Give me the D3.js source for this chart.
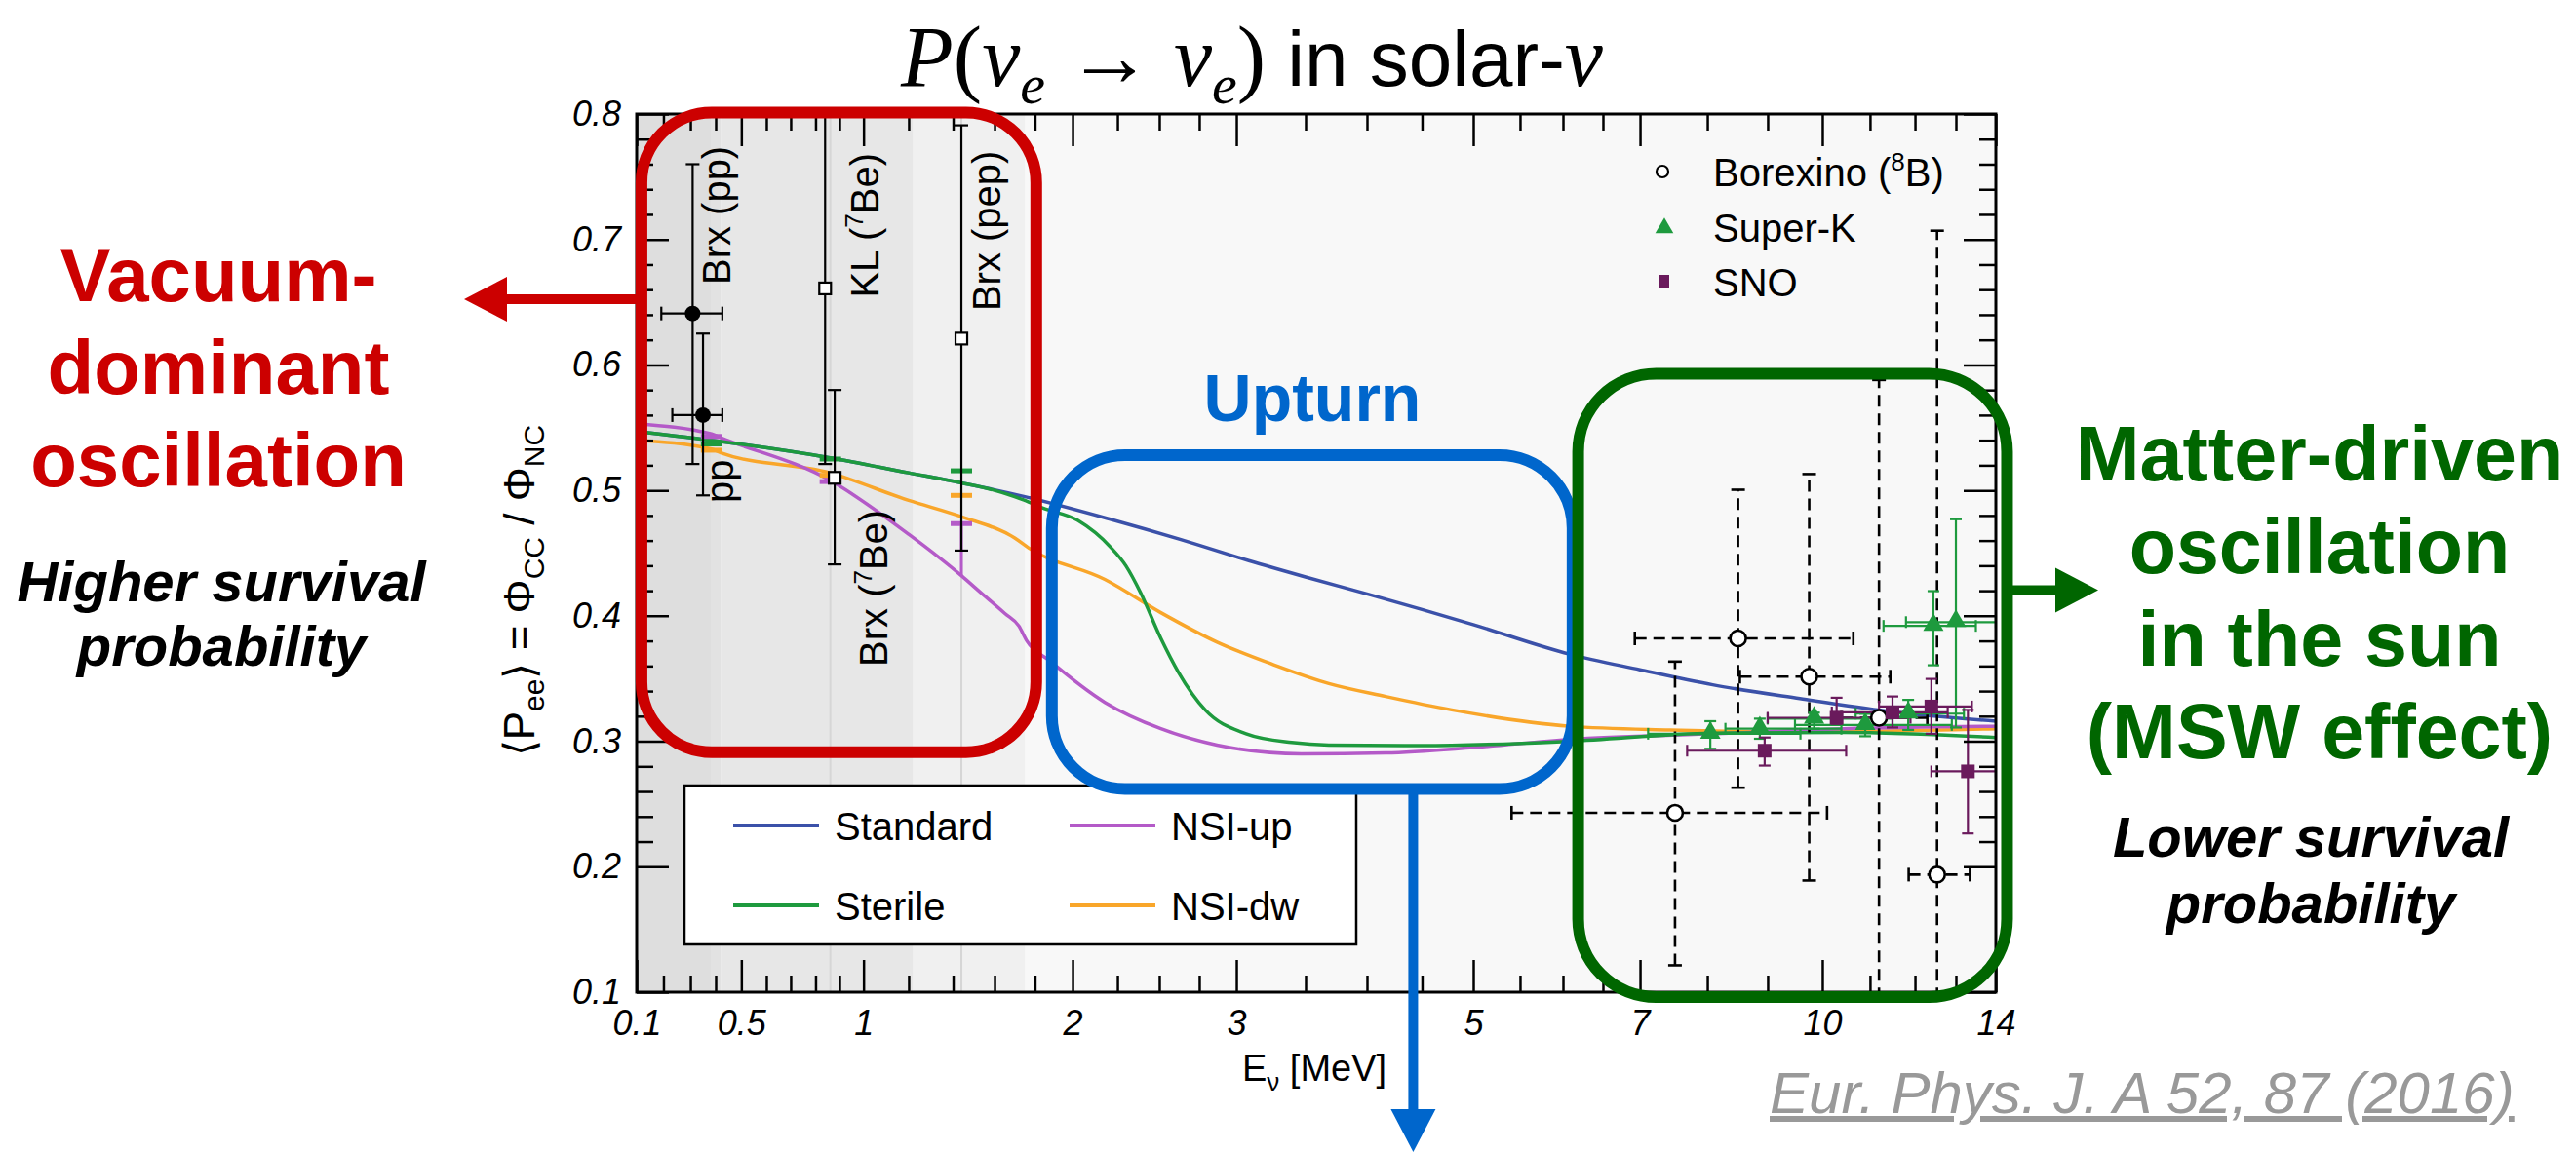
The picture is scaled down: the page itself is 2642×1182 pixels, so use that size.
<!DOCTYPE html>
<html>
<head>
<meta charset="utf-8">
<script src="https://cdn.jsdelivr.net/npm/d3@7"></script>
<style>
  body { margin: 0; background: #fff; }
  svg text { font-family: "Liberation Sans", Arial, Helvetica, sans-serif; }
</style>
</head>
<body>
<svg id="chart" width="2642" height="1182"></svg>
<script>

// ---- model curves: neutrino energy (MeV) and survival probability
var stdE  = [0.1, 0.42, 0.86, 1.2, 1.44, 1.75, 2.21, 2.63, 3.09, 3.5, 4.04, 4.5, 5.0, 6.08, 7.0, 8.09, 9.59, 11.38, 14];
var stdP  = [0.547, 0.539, 0.526, 0.514, 0.506, 0.495, 0.477, 0.461, 0.444, 0.431, 0.4165, 0.405, 0.393, 0.3695, 0.357, 0.345, 0.334, 0.324, 0.316];

var sterE = [0.1, 0.42, 0.86, 1.2, 1.44, 1.6, 1.75, 1.84, 2.03, 2.21, 2.3, 2.39, 2.51, 2.62, 2.79, 3.07, 3.4, 3.69, 4.5, 6.08, 8.09, 10.45, 14];
var sterP = [0.547, 0.539, 0.526, 0.514, 0.506, 0.500, 0.492, 0.486, 0.476, 0.455, 0.440, 0.418, 0.382, 0.355, 0.325, 0.306, 0.299, 0.297, 0.2965, 0.300, 0.3065, 0.307, 0.303];

var upE   = [0.1, 0.384, 0.42, 0.86, 1.2, 1.44, 1.53, 1.65, 1.72, 1.76, 1.88, 2.18, 2.51, 2.87, 3.47, 4.17, 5.0, 6.08, 8.09, 10.45, 14];
var upP   = [0.553, 0.545, 0.542, 0.508, 0.465, 0.432, 0.419, 0.402, 0.392, 0.380, 0.364, 0.331, 0.310, 0.297, 0.290, 0.2907, 0.295, 0.3015, 0.306, 0.310, 0.312];

var dwE   = [0.1, 0.384, 0.42, 0.86, 1.2, 1.44, 1.70, 1.77, 2.18, 2.51, 2.87, 3.27, 3.69, 4.17, 4.79, 6.08, 7.44, 9.59, 14];
var dwP   = [0.540, 0.533, 0.530, 0.514, 0.492, 0.479, 0.462, 0.454, 0.429, 0.4025, 0.379, 0.361, 0.346, 0.3357, 0.325, 0.312, 0.309, 0.3075, 0.310];

// model predictions at the pp / 7Be / pep lines
var srcE      = [0.384, 0.862, 1.44];
var srcSter   = [0.537, 0.525, 0.5156];
var srcUp     = [0.543, 0.507, 0.4735];
var srcDw     = [0.532, 0.512, 0.496];

// ---- low energy measurements
var lowE    = [0.309, 0.35, 0.84, 0.88, 1.44];
var lowP    = [0.641, 0.560, 0.661, 0.510, 0.621];
var lowPlo  = [0.521, 0.496, 0.521, 0.441, 0.452];
var lowPhi  = [0.760, 0.625, 0.860, 0.580, 0.791];
var lowElo  = [0.192, 0.233, null, null, null];
var lowEhi  = [0.426, 0.426, null, null, null];
var lowOpen = [false, false, true, true, true];

// ---- 8B measurements
var bxE   = [7.52, 8.51, 9.76, 11.2, 12.54];
var bxP   = [0.243, 0.382, 0.3515, 0.3187, 0.1937];
var bxElo = [5.41, 6.93, 8.54, 10.4, 11.86];
var bxEhi = [10.1, 10.65, 11.45, 12.3, 13.35];
var bxPlo = [0.1214, 0.263, 0.189, 0.05, 0.05];
var bxPhi = [0.3635, 0.5005, 0.513, 0.588, 0.707];

var skE   = [8.05, 8.87, 9.85, 10.9, 11.85, 12.45, 13.0];
var skP   = [0.306, 0.310, 0.318, 0.313, 0.322, 0.392, 0.395];
var skElo = [7.12, 8.3, 9.0, 9.5, 10.7, 11.3, 11.8];
var skEhi = [9.6, 10.4, 11.5, 12.9, 13.2, 13.5, 14.0];
var skPlo = [0.294, 0.302, 0.310, 0.304, 0.309, 0.3606, 0.311];
var skPhi = [0.316, 0.318, 0.3228, 0.322, 0.333, 0.4197, 0.477];

var snoE   = [8.95, 10.3, 11.5, 12.4, 13.3];
var snoP   = [0.2925, 0.3187, 0.323, 0.3277, 0.276];
var snoElo = [7.7, 9.0, 10.2, 11.2, 12.4];
var snoEhi = [10.5, 11.9, 12.8, 13.4, 14.0];
var snoPlo = [0.2806, 0.3139, 0.311, 0.306, 0.2265];
var snoPhi = [0.303, 0.3347, 0.3357, 0.3497, 0.325];

// ---- axis
var xMajor = [0.1, 0.5, 1, 2, 3, 5, 7, 10, 14];
var yMajor = [0.1, 0.2, 0.3, 0.4, 0.5, 0.6, 0.7, 0.8];
// shaded source regions
var bandLo = [0.1, 0.384, 0.42, 1.22];
var bandHi = [0.384, 0.42, 1.22, 1.75];

// the energy axis is neither log nor linear: calibrate it at the tick marks (fraction of axis length)
var axisE    = [0.1,0.2,0.3,0.4,0.5,0.6,0.7,0.8,0.9,1,1.2,1.4,1.6,1.8,2,2.25,2.5,2.75,3,3.5,4,4.5,5,5.5,6,6.5,7,8,9,10,11,12,13,14];
var axisFrac = [0,.0197,.0395,.0581,.0770,.0954,.1133,.1316,.1492,.1669,.2001,.2328,.2633,.2930,.3207,.3537,.3845,.4139,.4412,.4921,.5373,.5778,.6155,.6499,.6815,.7109,.7382,.7877,.8321,.8723,.9074,.9405,.9706,1];

var X0 = 653, Y0 = 117, W = 1394, H = 901;
var svg = d3.select('#chart');

var x = d3.scaleLinear().domain(axisE).range(axisFrac.map(function(f){ return X0 + f * W; }));
var y = d3.scaleLinear().domain([0.1, 0.8]).range([Y0 + H, Y0]);

var xMinor = axisE.filter(function(e){ return xMajor.indexOf(e) < 0; });
var yMinor = d3.range(11, 40).map(function(i){ return i / 50; }).filter(function(v){ return Math.round(v * 50) % 5 != 0; });

var colStd = '#3b51a9', colSter = '#1e9a3e', colUp = '#b45ac8', colDw = '#f9a62a';
var colSK = '#1e9a3e', colSNO = '#6a1a5c';

// background + source bands
svg.append('rect').attr('x', X0).attr('y', Y0).attr('width', W).attr('height', H).attr('fill', '#f8f8f8');
var bandFill = ['#dedede', '#e2e2e2', '#e7e7e7', '#f0f0f0'];
svg.selectAll('rect.band').data(bandLo).enter().append('rect')
    .attr('class', 'band')
    .attr('x', function(d){ return x(d); })
    .attr('width', function(d, i){ return x(bandHi[i]) - x(d); })
    .attr('y', Y0).attr('height', H)
    .attr('fill', function(d, i){ return bandFill[i]; });
svg.selectAll('line.src').data([0.862, 1.44]).enter().append('line')
    .attr('x1', function(d){ return x(d); }).attr('x2', function(d){ return x(d); })
    .attr('y1', Y0).attr('y2', Y0 + H)
    .attr('stroke', '#d6d6d6').attr('stroke-width', 2);

svg.append('defs').append('clipPath').attr('id', 'plotclip')
  .append('rect').attr('x', X0).attr('y', Y0).attr('width', W).attr('height', H);
var plot = svg.append('g').attr('clip-path', 'url(#plotclip)');

// model curves
var curves = [
  {name: 'Standard', color: colStd,  E: stdE,  P: stdP},
  {name: 'NSI-dw',   color: colDw,   E: dwE,   P: dwP},
  {name: 'NSI-up',   color: colUp,   E: upE,   P: upP},
  {name: 'Sterile',  color: colSter, E: sterE, P: sterP}
];
var line = d3.line().curve(d3.curveMonotoneX)
    .x(function(d){ return x(d[0]); })
    .y(function(d){ return y(d[1]); });
plot.selectAll('path.model').data(curves).enter().append('path')
    .attr('class', 'model')
    .attr('d', function(c){ return line(d3.zip(c.E, c.P)); })
    .attr('fill', 'none')
    .attr('stroke', function(c){ return c.color; })
    .attr('stroke-width', 3.5);

// predictions at the source lines
[[srcDw, colDw], [srcUp, colUp], [srcSter, colSter]].forEach(function(s){
  plot.selectAll(null).data(srcE).enter().append('line')
      .attr('x1', function(d){ return x(d) - 11; }).attr('x2', function(d){ return x(d) + 11; })
      .attr('y1', function(d, i){ return y(s[0][i]); }).attr('y2', function(d, i){ return y(s[0][i]); })
      .attr('stroke', s[1]).attr('stroke-width', 5);
});
plot.append('line')
    .attr('x1', x(srcE[2])).attr('x2', x(srcE[2]))
    .attr('y1', y(srcUp[2])).attr('y2', y(upP[5]))
    .attr('stroke', colUp).attr('stroke-width', 3);

// error bar helper
function errBars(g, E, P, Elo, Ehi, Plo, Phi, color, width, dash, cap) {
  var idx = d3.range(E.length);
  g.selectAll(null).data(idx.filter(function(i){ return Elo[i] != null; })).enter().append('line')
      .attr('x1', function(i){ return x(Elo[i]); }).attr('x2', function(i){ return x(Ehi[i]); })
      .attr('y1', function(i){ return y(P[i]); }).attr('y2', function(i){ return y(P[i]); })
      .attr('stroke', color).attr('stroke-width', width).attr('stroke-dasharray', dash);
  g.selectAll(null).data(idx).enter().append('line')
      .attr('x1', function(i){ return x(E[i]); }).attr('x2', function(i){ return x(E[i]); })
      .attr('y1', function(i){ return y(Plo[i]); }).attr('y2', function(i){ return y(Phi[i]); })
      .attr('stroke', color).attr('stroke-width', width).attr('stroke-dasharray', dash);
  // caps
  var caps = [];
  idx.forEach(function(i){
    caps.push([x(E[i]) - cap, y(Plo[i]), x(E[i]) + cap, y(Plo[i])]);
    caps.push([x(E[i]) - cap, y(Phi[i]), x(E[i]) + cap, y(Phi[i])]);
    if (Elo[i] != null) {
      caps.push([x(Elo[i]), y(P[i]) - cap, x(Elo[i]), y(P[i]) + cap]);
      caps.push([x(Ehi[i]), y(P[i]) - cap, x(Ehi[i]), y(P[i]) + cap]);
    }
  });
  g.selectAll(null).data(caps).enter().append('line')
      .attr('x1', function(c){ return c[0]; }).attr('y1', function(c){ return c[1]; })
      .attr('x2', function(c){ return c[2]; }).attr('y2', function(c){ return c[3]; })
      .attr('stroke', color).attr('stroke-width', width);
}

// low energy points
errBars(plot, lowE, lowP, lowElo, lowEhi, lowPlo, lowPhi, '#000', 2.2, null, 7);
plot.selectAll('circle.low').data(d3.range(lowE.length).filter(function(i){ return !lowOpen[i]; })).enter()
  .append('circle')
    .attr('cx', function(i){ return x(lowE[i]); }).attr('cy', function(i){ return y(lowP[i]); })
    .attr('r', 8).attr('fill', '#000');
plot.selectAll('rect.low').data(d3.range(lowE.length).filter(function(i){ return lowOpen[i]; })).enter()
  .append('rect')
    .attr('x', function(i){ return x(lowE[i]) - 6; }).attr('y', function(i){ return y(lowP[i]) - 6; })
    .attr('width', 12).attr('height', 12)
    .attr('fill', '#fff').attr('stroke', '#000').attr('stroke-width', 2.2);

// 8B points
errBars(plot, bxE, bxP, bxElo, bxEhi, bxPlo, bxPhi, '#000', 2.6, '12,7', 7);
errBars(plot, skE, skP, skElo, skEhi, skPlo, skPhi, colSK, 2.2, null, 6);
errBars(plot, snoE, snoP, snoElo, snoEhi, snoPlo, snoPhi, colSNO, 2.2, null, 6);

plot.selectAll('circle.bx').data(d3.range(bxE.length)).enter().append('circle')
    .attr('cx', function(i){ return x(bxE[i]); }).attr('cy', function(i){ return y(bxP[i]); })
    .attr('r', 8).attr('fill', '#fff').attr('stroke', '#000').attr('stroke-width', 2.6);
var tri = d3.symbol().type(d3.symbolTriangle).size(190);
plot.selectAll('path.sk').data(d3.range(skE.length)).enter().append('path')
    .attr('d', tri)
    .attr('transform', function(i){ return 'translate(' + x(skE[i]) + ',' + (y(skP[i]) - 1) + ')'; })
    .attr('fill', colSK);
plot.selectAll('rect.sno').data(d3.range(snoE.length)).enter().append('rect')
    .attr('x', function(i){ return x(snoE[i]) - 7; }).attr('y', function(i){ return y(snoP[i]) - 7; })
    .attr('width', 14).attr('height', 14).attr('fill', colSNO);

// axes
function styleAxis(g) {
  g.select('.domain').remove();
  g.selectAll('.tick line').attr('stroke', '#000').attr('stroke-width', 2.5);
  g.selectAll('.tick text')
      .attr('fill', '#000')
      .style('font-family', '"Liberation Sans", Arial, sans-serif')
      .style('font-size', '36px')
      .style('font-style', 'italic');
}
var lab = function(d){ return String(d); };
svg.append('g').attr('transform', 'translate(0,' + (Y0 + H) + ')')
    .call(d3.axisBottom(x).tickValues(xMajor).tickSize(-33).tickPadding(18).tickFormat(lab))
    .call(styleAxis);
svg.append('g').attr('transform', 'translate(0,' + (Y0 + H) + ')')
    .call(d3.axisBottom(x).tickValues(xMinor).tickSize(-17).tickFormat(''))
    .call(styleAxis);
svg.append('g').attr('transform', 'translate(0,' + Y0 + ')')
    .call(d3.axisTop(x).tickValues(xMajor).tickSize(-33).tickFormat(''))
    .call(styleAxis);
svg.append('g').attr('transform', 'translate(0,' + Y0 + ')')
    .call(d3.axisTop(x).tickValues(xMinor).tickSize(-17).tickFormat(''))
    .call(styleAxis);
svg.append('g').attr('transform', 'translate(' + X0 + ',0)')
    .call(d3.axisLeft(y).tickValues(yMajor).tickSize(-33).tickPadding(16).tickFormat(d3.format('.1f')))
    .call(styleAxis);
svg.append('g').attr('transform', 'translate(' + X0 + ',0)')
    .call(d3.axisLeft(y).tickValues(yMinor).tickSize(-17).tickFormat(''))
    .call(styleAxis);
svg.append('g').attr('transform', 'translate(' + (X0 + W) + ',0)')
    .call(d3.axisRight(y).tickValues(yMajor).tickSize(-33).tickFormat(''))
    .call(styleAxis);
svg.append('g').attr('transform', 'translate(' + (X0 + W) + ',0)')
    .call(d3.axisRight(y).tickValues(yMinor).tickSize(-17).tickFormat(''))
    .call(styleAxis);
svg.append('rect').attr('x', X0).attr('y', Y0).attr('width', W).attr('height', H)
    .attr('fill', 'none').attr('stroke', '#000').attr('stroke-width', 3);

// axis titles
var xt = svg.append('text').attr('x', x(3) + 80).attr('y', 1109).attr('text-anchor', 'middle')
    .style('font-size', '38px');
xt.append('tspan').text('E');
xt.append('tspan').attr('dy', 10).style('font-size', '26px').text('ν');
xt.append('tspan').attr('dy', -10).text(' [MeV]');

var yt = svg.append('text').attr('transform', 'translate(548,' + y(0.42) + ') rotate(-90)')
    .attr('text-anchor', 'middle').style('font-size', '44px');
yt.append('tspan').text('⟨P');
yt.append('tspan').attr('dy', 10).style('font-size', '30px').text('ee');
yt.append('tspan').attr('dy', -10).text('⟩ = Φ');
yt.append('tspan').attr('dy', 10).style('font-size', '30px').text('CC');
yt.append('tspan').attr('dy', -10).text(' / Φ');
yt.append('tspan').attr('dy', 10).style('font-size', '30px').text('NC');

// rotated labels for the low energy points
var lowLab = [
  {t: ['Brx (pp)'], e: 0.309, p: 0.664, dx: 39},
  {t: ['pp'], e: 0.35, p: 0.490, dx: 31},
  {t: ['KL (', '7', 'Be)'], e: 0.84, p: 0.6535, dx: 55},
  {t: ['Brx (', '7', 'Be)'], e: 0.88, p: 0.3595, dx: 54},
  {t: ['Brx (pep)'], e: 1.44, p: 0.643, dx: 40}
];
lowLab.forEach(function(l){
  var t = svg.append('text')
      .attr('transform', 'translate(' + (x(l.e) + l.dx) + ',' + y(l.p) + ') rotate(-90)')
      .style('font-size', '40px');
  if (l.t.length == 1) t.text(l.t[0]);
  else {
    t.append('tspan').text(l.t[0]);
    t.append('tspan').attr('dy', -16).style('font-size', '26px').text(l.t[1]);
    t.append('tspan').attr('dy', 16).text(l.t[2]);
  }
});

// curve legend
svg.append('rect').attr('x', 702).attr('y', 806).attr('width', 689).attr('height', 163)
    .attr('fill', '#fff').attr('stroke', '#000').attr('stroke-width', 2.5);
var legPos = {'Standard': [752, 847], 'NSI-up': [1097, 847], 'Sterile': [752, 929], 'NSI-dw': [1097, 929]};
curves.forEach(function(c){
  var p = legPos[c.name];
  svg.append('line').attr('x1', p[0]).attr('x2', p[0] + 88).attr('y1', p[1]).attr('y2', p[1])
      .attr('stroke', c.color).attr('stroke-width', 4);
  svg.append('text').attr('x', p[0] + 104).attr('y', p[1] + 15).style('font-size', '40px').text(c.name);
});

// data legend
svg.append('circle').attr('cx', 1705).attr('cy', 176).attr('r', 6)
    .attr('fill', '#fff').attr('stroke', '#000').attr('stroke-width', 2.2);
svg.append('path').attr('d', d3.symbol().type(d3.symbolTriangle).size(150))
    .attr('transform', 'translate(1707,234)').attr('fill', colSK);
svg.append('rect').attr('x', 1701).attr('y', 282).attr('width', 11).attr('height', 14).attr('fill', colSNO);
var bl = svg.append('text').attr('x', 1757).attr('y', 191).style('font-size', '40px');
bl.append('tspan').text('Borexino (');
bl.append('tspan').attr('dy', -16).style('font-size', '26px').text('8');
bl.append('tspan').attr('dy', 16).text('B)');
svg.append('text').attr('x', 1757).attr('y', 248).style('font-size', '40px').text('Super-K');
svg.append('text').attr('x', 1757).attr('y', 304).style('font-size', '40px').text('SNO');

// ---- annotations
function box(e0, e1, p0, p1, color, r) {
  svg.append('rect')
      .attr('x', x(e0)).attr('y', y(p0))
      .attr('width', x(e1) - x(e0)).attr('height', y(p1) - y(p0))
      .attr('rx', r).attr('ry', r)
      .attr('fill', 'none').attr('stroke', color).attr('stroke-width', 12);
}
box(0.118, 1.807, 0.8012, 0.2913, '#cc0000', 72);
box(1.89, 6.12, 0.528, 0.262, '#0066cc', 75);
box(6.19, 14.28, 0.593, 0.0961, '#006600', 80);

function arrow(x1, y1, x2, y2, color) {
  var a = Math.atan2(y2 - y1, x2 - x1), L = 44, hw = 23;
  var bx = x2 - L * Math.cos(a), by = y2 - L * Math.sin(a);
  svg.append('line').attr('x1', x1).attr('y1', y1).attr('x2', bx).attr('y2', by)
      .attr('stroke', color).attr('stroke-width', 10);
  svg.append('path')
      .attr('d', 'M' + x2 + ',' + y2 +
                 'L' + (bx - hw * Math.sin(a)) + ',' + (by + hw * Math.cos(a)) +
                 'L' + (bx + hw * Math.sin(a)) + ',' + (by - hw * Math.cos(a)) + 'Z')
      .attr('fill', color);
}
arrow(x(0.118), y(0.6524), 476, y(0.6524), '#cc0000');
arrow(x(4.42), y(0.262), x(4.42), 1182, '#0066cc');
arrow(x(14.28), y(0.4204), 2152, y(0.4204), '#006600');

svg.append('text').attr('x', 1346).attr('y', 432).attr('text-anchor', 'middle')
    .style('font-size', '68px').style('font-weight', 'bold').attr('fill', '#0066cc').text('Upturn');

function block(lines, cx, y0, dy, size, color, italic) {
  var t = svg.append('text').attr('text-anchor', 'middle')
      .style('font-size', size + 'px').style('font-weight', 'bold')
      .style('font-style', italic ? 'italic' : 'normal').attr('fill', color);
  lines.forEach(function(s, i){
    t.append('tspan').attr('x', cx).attr('y', y0 + i * dy).text(s);
  });
}
block(['Vacuum-', 'dominant', 'oscillation'], 224, 309, 95, 78, '#cc0000', false);
block(['Higher survival', 'probability'], 227, 617, 66, 58, '#000', true);
block(['Matter-driven', 'oscillation', 'in the sun', '(MSW effect)'], 2379, 493, 95, 79, '#006600', false);
block(['Lower survival', 'probability'], 2370, 879, 68, 58, '#000', true);

// title
var tt = svg.append('text').attr('x', 1284).attr('y', 88).attr('text-anchor', 'middle').style('font-size', '88px');
var serif = '"Liberation Serif", "Times New Roman", serif';
tt.append('tspan').style('font-family', serif).style('font-style', 'italic').text('P');
tt.append('tspan').style('font-family', serif).text('(');
tt.append('tspan').style('font-family', serif).style('font-style', 'italic').text('ν');
tt.append('tspan').attr('dy', 18).style('font-family', serif).style('font-style', 'italic').style('font-size', '58px').text('e');
tt.append('tspan').attr('dy', -18).style('font-family', serif).text(' → ');
tt.append('tspan').style('font-family', serif).style('font-style', 'italic').text('ν');
tt.append('tspan').attr('dy', 18).style('font-family', serif).style('font-style', 'italic').style('font-size', '58px').text('e');
tt.append('tspan').attr('dy', -18).style('font-family', serif).text(')');
tt.append('tspan').style('font-size', '80px').text(' in solar-');
tt.append('tspan').style('font-family', serif).style('font-style', 'italic').text('ν');

// reference
svg.append('text').attr('x', 1815).attr('y', 1142)
    .style('font-size', '60px').style('font-style', 'italic')
    .attr('fill', '#999').attr('text-decoration', 'underline')
    .text('Eur. Phys. J. A 52, 87 (2016)');

</script>
</body>
</html>
